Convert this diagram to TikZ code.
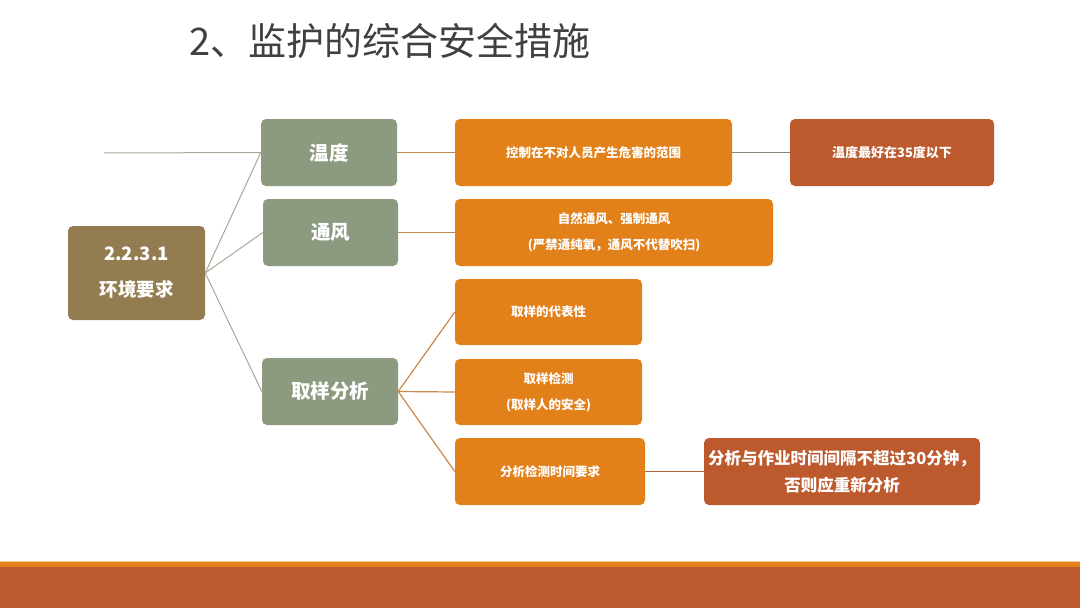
\documentclass[tikz,border=0pt]{standalone}
\usepackage{fontspec}
\newfontfamily\cjk{Noto Sans CJK SC}
\definecolor{titlegray}{HTML}{404040}
\definecolor{rootc}{HTML}{937C4F}
\definecolor{greenc}{HTML}{8C9B80}
\definecolor{orangec}{HTML}{E2801A}
\definecolor{rustc}{HTML}{BC5A2D}
\definecolor{graylink}{HTML}{A8A898}
\definecolor{orlink}{HTML}{C8894E}
\tikzset{
  basebox/.style={rounded corners=5pt, text=white, align=center, inner sep=2pt, font=\cjk\bfseries},
  rootbox/.style={basebox, fill=rootc, minimum width=137pt, minimum height=94pt, font=\cjk\bfseries\fontsize{18.5}{36}\selectfont},
  greenbox/.style={basebox, fill=greenc, minimum width=136pt, minimum height=67pt, font=\cjk\bfseries\fontsize{19.5}{24}\selectfont},
  orbox/.style={basebox, fill=orangec, minimum height=67pt, font=\cjk\bfseries\fontsize{12.5}{26}\selectfont},
  rustbox/.style={basebox, fill=rustc, minimum height=67pt},
  glink/.style={draw=graylink, line width=1pt},
  olink/.style={draw=orlink, line width=1.2pt},
}
\begin{document}
\begin{tikzpicture}[x=1pt,y=-1pt]
\useasboundingbox (0,0) rectangle (1080,608);
\fill[white] (0,0) rectangle (1080,608);
% bottom bar
\fill[rustc] (0,567) rectangle (1080,608);
\fill[orangec] (0,562) rectangle (1080,567);
\fill[orangec!40!white] (0,560.5) rectangle (1080,562);
% title
\node[anchor=west, inner sep=0, text=titlegray, font=\cjk\fontsize{38}{40}\selectfont] (title) at (189,41) {2、监护的综合安全措施};
% nodes
\node[rootbox] (root) at (136.5,273) {2.2.3.1\\环境要求};
\node[greenbox] (wendu) at (329,152.5) {温度};
\node[greenbox, minimum width=135pt] (tongfeng) at (330.5,232.5) {通风};
\node[greenbox] (quyang) at (330,391.5) {取样分析};
\node[orbox, minimum width=277pt] (kongzhi) at (593.5,152.5) {控制在不对人员产生危害的范围};
\node[rustbox, minimum width=204pt, font=\cjk\bfseries\fontsize{13}{16}\selectfont] (wd35) at (892,152.5) {温度最好在35度以下};
\node[orbox, minimum width=318pt] (ziran) at (614,232.5) {自然通风、强制通风\\(严禁通纯氧，通风不代替吹扫)};
\node[orbox, minimum width=187pt, minimum height=66pt] (daibiao) at (548.5,312) {取样的代表性};
\node[orbox, minimum width=187pt, minimum height=66pt] (jiance) at (548.5,392) {取样检测\\(取样人的安全)};
\node[orbox, minimum width=190pt] (shijian) at (550,471.5) {分析检测时间要求};
\node[rustbox, minimum width=276pt, inner sep=0pt, font=\cjk\bfseries\fontsize{16.5}{27}\selectfont] (zuoye) at (842,471.5) {分析与作业时间间隔不超过30分钟，\\否则应重新分析};
% connectors
\coordinate (lineend) at (104,153);
\draw[glink] (lineend) -- (wendu.west);
\draw[glink] (root.east) -- (wendu.west);
\draw[glink] (root.east) -- (tongfeng.west);
\draw[glink] (root.east) -- (quyang.west);
\draw[olink] (wendu.east) -- (kongzhi.west);
\draw[glink, draw=gray!80!orlink] (kongzhi.east) -- (wd35.west);
\draw[olink] (tongfeng.east) -- (ziran.west);
\draw[olink] (quyang.east) -- (daibiao.west);
\draw[olink] (quyang.east) -- (jiance.west);
\draw[olink] (quyang.east) -- (shijian.west);
\draw[olink, draw=rustc!80!gray] (shijian.east) -- (zuoye.west);
\end{tikzpicture}
\end{document}
